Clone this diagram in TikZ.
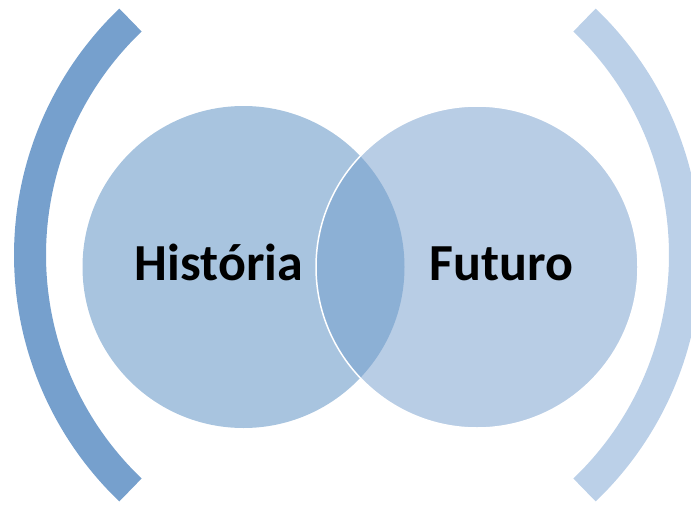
\documentclass[tikz,border=0pt]{standalone}
\usepackage{fontspec}
\setmainfont{Carlito}
\definecolor{arcL}{HTML}{76A0CD}
\definecolor{arcR}{HTML}{BBD0E8}
\definecolor{circL}{HTML}{A8C4DF}
\definecolor{circR}{HTML}{B8CDE5}
\definecolor{lens}{HTML}{8CB0D5}
\tikzset{
  bracket/.style={line width=32pt, line cap=butt},
  label/.style={font=\bfseries\fontsize{52}{60}\selectfont, text=black, anchor=base, inner sep=0pt}
}
\begin{document}
\begin{tikzpicture}[x=1pt,y=-1pt]
\useasboundingbox (0,0) rectangle (691,506);
% brackets
\coordinate (cL) at (355,255);
\coordinate (cR) at (360,255);
\draw[bracket, arcL] (cL) ++(133.7:325) arc[start angle=133.7, end angle=226.3, radius=325];
\draw[bracket, arcR] (cR) ++(-46.3:325) arc[start angle=-46.3, end angle=46.3, radius=325];
% circles
\coordinate (hist) at (243.5,267);
\coordinate (fut) at (477,267);
\fill[circL] (hist) circle[radius=161];
\fill[circR] (fut) circle[radius=161];
\begin{scope}
  \clip (hist) circle[radius=161];
  \fill[lens] (fut) circle[radius=161];
\end{scope}
\draw[white, line width=1.5pt] (fut) circle[radius=161];
% labels
\node[label] (tH) at (219,280) {História};
\node[label] (tF) at (501.5,280) {Futuro};
\end{tikzpicture}
\end{document}
